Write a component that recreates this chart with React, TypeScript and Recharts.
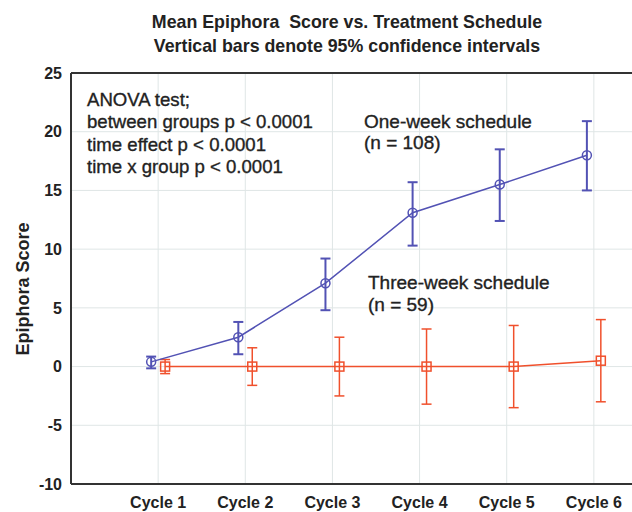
import { CartesianGrid, ErrorBar, Line, LineChart, ReferenceLine, XAxis, YAxis } from "recharts";

const cycles = ["Cycle 1", "Cycle 2", "Cycle 3", "Cycle 4", "Cycle 5", "Cycle 6"];

// one-week schedule (n = 108)
const oneWeekMean = [0.4, 2.5, 7.1, 13.1, 15.5, 18.0];
const oneWeekLow = [-0.15, 1.05, 4.8, 10.3, 12.4, 15.0];
const oneWeekHigh = [0.85, 3.8, 9.2, 15.7, 18.5, 20.9];

// three-week schedule (n = 59)
const threeWeekMean = [0, 0, 0, 0, 0, 0.5];
const threeWeekLow = [-0.6, -1.6, -2.5, -3.2, -3.5, -3.0];
const threeWeekHigh = [0.6, 1.6, 2.5, 3.2, 3.5, 4.0];

const yTicks = [-10, -5, 0, 5, 10, 15, 20, 25];

const BLUE = "#5252b4";
const RED = "#f0502c";
const INK = "#333333";
const FONT = "Arial, 'Liberation Sans', sans-serif";

// the two groups sit a little left / right of each cycle so the bars don't overlap
const build = (mean: number[], low: number[], high: number[], shift: number) =>
  mean.map((m, i) => ({
    x: i + 1 + shift,
    y: m,
    err: [m - low[i], high[i] - m],
  }));

const oneWeek = build(oneWeekMean, oneWeekLow, oneWeekHigh, -0.08);
const threeWeek = build(threeWeekMean, threeWeekLow, threeWeekHigh, 0.08);

const SquareDot = (props: any) => {
  const { cx, cy } = props;
  if (cx == null || cy == null) return null;
  return <rect x={cx - 4.5} y={cy - 4.5} width={9} height={9} fill="none" stroke={RED} strokeWidth={1.5} />;
};

const text = (style: React.CSSProperties): React.CSSProperties => ({
  position: "absolute",
  fontFamily: FONT,
  color: "#222",
  whiteSpace: "nowrap",
  lineHeight: 1,
  ...style,
});

export default function App() {
  return (
    <div style={{ position: "absolute", left: 0, top: 0, width: 632, height: 512, overflow: "hidden", background: "#fff" }}>
      <LineChart width={700} height={520} margin={{ top: 73, right: 19, bottom: 8, left: 0 }}>
        <CartesianGrid stroke="#dfe6e6" strokeWidth={1} />
        <XAxis
          type="number"
          dataKey="x"
          domain={[0, 7]}
          ticks={[1, 2, 3, 4, 5, 6]}
          tickFormatter={(v: number) => cycles[v - 1]}
          allowDataOverflow
          height={28}
          stroke={INK}
          strokeWidth={2}
          tickLine={false}
          tickMargin={7}
          tick={{ fill: "#222", fontSize: 16, fontWeight: 700, fontFamily: FONT }}
        />
        <YAxis
          type="number"
          domain={[-10, 25]}
          ticks={yTicks}
          width={71}
          stroke={INK}
          strokeWidth={2}
          tickLine={false}
          tickMargin={3}
          tick={{ fill: "#222", fontSize: 16, fontWeight: 700, fontFamily: FONT }}
        />
        <ReferenceLine y={25} stroke={INK} strokeWidth={2} />
        <Line
          data={threeWeek}
          dataKey="y"
          stroke={RED}
          strokeWidth={1.5}
          dot={<SquareDot />}
          activeDot={false}
          isAnimationActive={false}
        >
          <ErrorBar dataKey="err" direction="y" width={5} stroke={RED} strokeWidth={1.5} />
        </Line>
        <Line
          data={oneWeek}
          dataKey="y"
          stroke={BLUE}
          strokeWidth={1.5}
          dot={{ r: 4.5, fill: "none", stroke: BLUE, strokeWidth: 1.5 }}
          activeDot={false}
          isAnimationActive={false}
        >
          <ErrorBar dataKey="err" direction="y" width={5} stroke={BLUE} strokeWidth={2} />
        </Line>
      </LineChart>

      <div style={text({ left: 0, width: 694, top: 14, textAlign: "center", fontSize: 17.8, fontWeight: 700 })}>
        Mean Epiphora&nbsp; Score vs. Treatment Schedule
      </div>
      <div style={text({ left: 0, width: 694, top: 38, textAlign: "center", fontSize: 17.8, fontWeight: 700 })}>
        Vertical bars denote 95% confidence intervals
      </div>

      <div style={text({ left: 87, top: 89, fontSize: 18.6, lineHeight: "22.3px", whiteSpace: "pre", WebkitTextStroke: "0.35px #222" })}>
        {"ANOVA test;\nbetween groups p < 0.0001\ntime effect p < 0.0001\ntime x group p < 0.0001"}
      </div>
      <div style={text({ left: 364, top: 111, fontSize: 19, lineHeight: "21px", whiteSpace: "pre", WebkitTextStroke: "0.35px #222" })}>
        {"One-week schedule\n(n = 108)"}
      </div>
      <div style={text({ left: 368, top: 272, fontSize: 19, lineHeight: "22px", whiteSpace: "pre", WebkitTextStroke: "0.35px #222" })}>
        {"Three-week schedule\n(n = 59)"}
      </div>

      <div
        style={text({
          left: 23,
          top: 289,
          fontSize: 18,
          fontWeight: 700,
          transform: "translate(-50%, -50%) rotate(-90deg)",
        })}
      >
        Epiphora Score
      </div>
    </div>
  );
}
